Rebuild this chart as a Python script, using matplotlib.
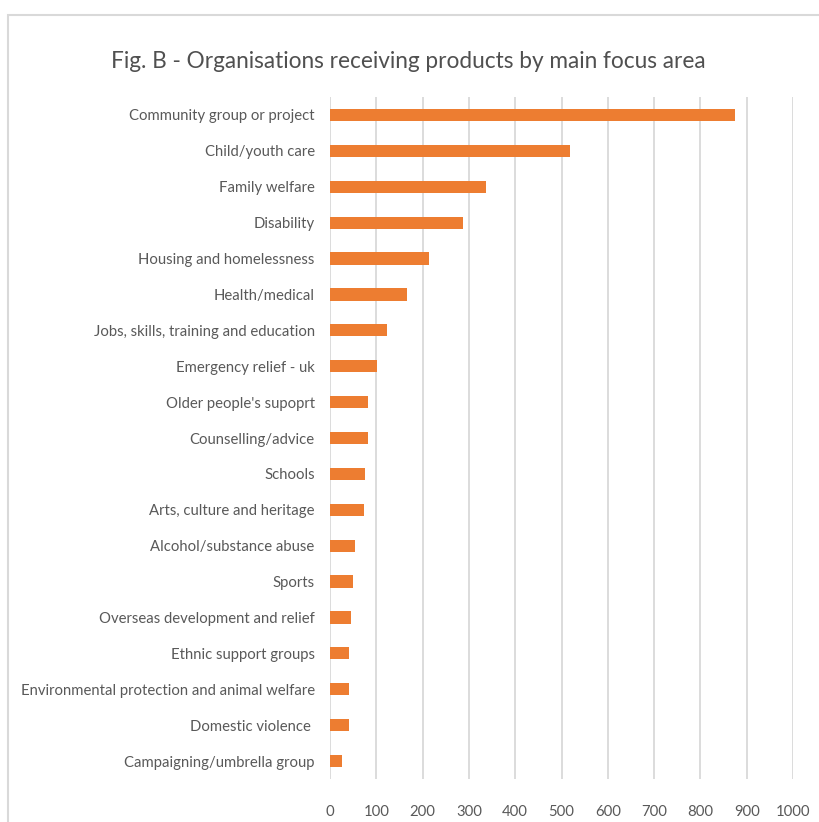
import matplotlib.pyplot as plt
from matplotlib.patches import Rectangle

plt.rcParams['font.family'] = ['Lato', 'DejaVu Sans']

categories = [
    "Community group or project",
    "Child/youth care",
    "Family welfare",
    "Disability",
    "Housing and homelessness",
    "Health/medical",
    "Jobs, skills, training and education",
    "Emergency relief - uk",
    "Older people's supoprt",
    "Counselling/advice",
    "Schools",
    "Arts, culture and heritage",
    "Alcohol/substance abuse",
    "Sports",
    "Overseas development and relief",
    "Ethnic support groups",
    "Environmental protection and animal welfare",
    "Domestic violence ",
    "Campaigning/umbrella group",
]
counts = [875, 518, 337, 288, 213, 167, 123, 101, 81, 81, 76, 74, 53, 50, 46, 42, 41, 41, 25]
xticks = [0, 100, 200, 300, 400, 500, 600, 700, 800, 900, 1000]

fig = plt.figure(figsize=(8.2, 8.22), dpi=100)
W, H = 820, 822

# light frame around the chart area
fig.patches.append(Rectangle((8 / W, -0.1), 1.2, 1 - 15 / H + 0.1,
                             transform=fig.transFigure, fill=False,
                             edgecolor='#d9d9d9', linewidth=1.5))

ax = fig.add_axes([330 / W, 1 - 779 / H, (793 - 330) / W, (779 - 97) / H])

y = range(len(categories))
ax.barh(y, counts, height=0.34, color='#ED7D31', zorder=3)
ax.set_ylim(len(categories) - 0.5, -0.5)
ax.set_xlim(0, 1000)
ax.set_xticks(xticks)
ax.set_xticklabels([str(t) for t in xticks])
ax.set_yticks(list(y))
ax.set_yticklabels(categories)

ax.grid(axis='x', color='#d9d9d9', linewidth=1.3, zorder=0)
for s in ax.spines.values():
    s.set_visible(False)
ax.tick_params(axis='both', length=0, colors='#595959', labelsize=10.7)
ax.tick_params(axis='x', pad=19)
ax.tick_params(axis='y', pad=11)

fig.text(408 / W, 1 - 62 / H, "Fig. B - Organisations receiving products by main focus area",
         ha='center', va='center', fontsize=16.3, color='#505050')

fig.savefig('out.png', dpi=100)
